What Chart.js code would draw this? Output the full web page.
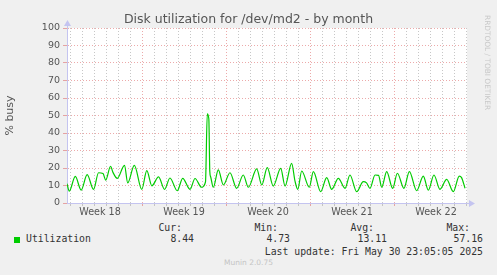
<!DOCTYPE html>
<html>
<head>
<meta charset="utf-8">
<script src="https://cdn.jsdelivr.net/npm/chart.js@4.4.1/dist/chart.umd.min.js"></script>
<style>
    body { margin: 0; background: #f0f0f0; }
    #wrap { position: relative; width: 497px; height: 275px; background: #f0f0f0; overflow: hidden; font-family: 'DejaVu Sans', sans-serif; }
    #chart { position: absolute; left: 0; top: 0; }
    .t { position: absolute; white-space: pre; line-height: 12px; }
    .mono { font-family: 'DejaVu Sans Mono', monospace; font-size: 9.8px; color: #333; }
</style>
</head>
<body>
<div id="wrap">
    <canvas id="chart" width="497" height="222" style="width:497px;height:222px"></canvas>
    <div class="t" style="left:0;width:497px;top:12px;line-height:14px;text-align:center;font-size:12.5px;color:#555">Disk utilization for /dev/md2 - by month</div>
    <div class="t" style="left:483px;top:15px;writing-mode:vertical-rl;font-size:7.4px;line-height:9px;color:#c8c8c8">RRDTOOL / TOBI OETIKER</div>

    <div class="t mono" style="right:315px;top:222px">Cur:</div>
    <div class="t mono" style="right:219px;top:222px">Min:</div>
    <div class="t mono" style="right:123px;top:222px">Avg:</div>
    <div class="t mono" style="right:27px;top:222px">Max:</div>

    <div style="position:absolute;left:14px;top:237px;width:6px;height:6px;background:#00cc00"></div>
    <div class="t mono" style="left:26px;top:233px">Utilization</div>
    <div class="t mono" id="cur" style="right:303px;top:233px"></div>
    <div class="t mono" id="min" style="right:207px;top:233px"></div>
    <div class="t mono" id="avg" style="right:110px;top:233px"></div>
    <div class="t mono" id="max" style="right:14px;top:233px"></div>

    <div class="t mono" style="right:14px;top:246px">Last update: Fri May 30 23:05:05 2025</div>
    <div class="t" style="left:0;width:497px;top:258px;text-align:center;font-size:7.5px;line-height:10px;color:#c4c4c4">Munin 2.0.75</div>
</div>
<script>
// x = days since start of week 18, y = % busy
const sampleDays = [
    0.75, 0.94, 1.44, 1.93, 2.43, 2.96, 3.38, 3.75, 3.98, 4.38, 4.58, 4.94, 5.54, 5.81, 6.36, 6.98,
    7.40, 7.82, 8.38, 8.88, 9.33, 9.94, 10.39, 11.00, 11.42, 11.96, 12.29, 12.44, 12.57, 12.65, 12.72, 12.94,
    13.36, 13.78, 14.33, 14.89, 15.44, 15.86, 16.56, 16.98, 17.44, 17.94, 18.56, 18.92, 19.47, 19.75, 19.98,
    20.31, 20.94, 21.28, 21.89, 22.39, 22.81, 23.36, 23.92, 24.33, 24.89, 25.44, 25.71, 26.00, 26.42, 26.71,
    26.98, 27.39, 27.89, 28.28, 28.83, 29.28, 29.89, 30.44, 30.86, 31.33, 31.83, 32.39, 32.94, 33.44, 33.63, 33.92
];
const utilization = [
    11.0, 6.8, 15.2, 7.4, 16.2, 7.8, 17.3, 16.8, 13.1, 21.0, 17.5, 14.1, 21.5, 11.5, 21.5, 7.8,
    18.5, 9.8, 14.9, 7.8, 14.3, 7.0, 14.1, 7.8, 14.0, 9.0, 12.0, 51.0, 48.0, 18.0, 15.0, 9.0,
    18.9, 10.3, 17.3, 8.4, 16.0, 9.0, 19.5, 10.3, 20.2, 9.7, 19.8, 9.7, 22.7, 12.5, 7.8,
    18.3, 9.0, 17.9, 6.5, 14.5, 7.8, 14.1, 8.4, 16.0, 6.5, 12.2, 11.5, 8.4, 16.0, 15.8,
    9.0, 17.9, 8.4, 17.0, 8.4, 17.9, 7.0, 15.4, 7.4, 16.0, 7.8, 13.5, 6.5, 15.4, 14.5, 8.4
];
const dayTicks = [];
for (let d = 1; d <= 34; d++) dayTicks.push(d);
const weekCenters = [3.5, 10.5, 17.5, 24.5, 31.5];
const weekLabels = ['Week 18', 'Week 19', 'Week 20', 'Week 21', 'Week 22'];
const summary = { cur: '8.44', min: '4.73', avg: '13.11', max: '57.16' };

const X_MIN = 0.75, X_MAX = 34.083;
const RED = 'rgba(220,100,100,0.55)';
const GRAY = 'rgba(175,175,175,0.7)';
const AXIS = '#c4c4f0';

for (const k in summary) document.getElementById(k).textContent = summary[k];

// white plot background + axis arrows
const plotDecor = {
    id: 'plotDecor',
    beforeDraw(chart) {
        const { ctx, chartArea: a } = chart;
        ctx.save();
        ctx.fillStyle = '#ffffff';
        ctx.fillRect(a.left, a.top, a.right - a.left, a.bottom - a.top);
        ctx.restore();
    },
    afterDraw(chart) {
        const { ctx, chartArea: a } = chart;
        ctx.save();
        ctx.strokeStyle = AXIS;
        ctx.fillStyle = AXIS;
        ctx.lineWidth = 1;
        ctx.beginPath();
        ctx.moveTo(a.left + 0.5, a.top);
        ctx.lineTo(a.left + 0.5, a.top - 4);
        ctx.moveTo(a.right, a.bottom + 0.5);
        ctx.lineTo(a.right + 4, a.bottom + 0.5);
        ctx.stroke();
        ctx.beginPath();
        ctx.moveTo(a.left + 0.5, a.top - 8);
        ctx.lineTo(a.left - 3, a.top - 2);
        ctx.lineTo(a.left + 4, a.top - 2);
        ctx.closePath();
        ctx.fill();
        ctx.beginPath();
        ctx.moveTo(a.right + 8, a.bottom + 0.5);
        ctx.lineTo(a.right + 2, a.bottom - 3);
        ctx.lineTo(a.right + 2, a.bottom + 4);
        ctx.closePath();
        ctx.fill();
        ctx.restore();
    }
};

const ctx = document.getElementById('chart').getContext('2d');
const chart = new Chart(ctx, {
    type: 'line',
    data: {
        datasets: [{
            label: 'Utilization',
            data: sampleDays.map((d, i) => ({ x: d, y: utilization[i] })),
            borderColor: '#00cc00',
            borderWidth: 1.2,
            pointRadius: 0,
            cubicInterpolationMode: 'monotone',
            fill: false,
            xAxisID: 'x',
            yAxisID: 'y'
        }]
    },
    options: {
        responsive: false,
        animation: false,
        layout: { padding: { top: 28, right: 30, left: 0, bottom: 0 } },
        plugins: { legend: { display: false }, tooltip: { enabled: false }, title: { display: false } },
        scales: {
            y: {
                min: 0,
                max: 100,
                afterFit: s => { s.width = 67; },
                ticks: {
                    stepSize: 5,
                    padding: 3,
                    color: '#555',
                    font: { family: 'DejaVu Sans', size: 9.5 },
                    callback: v => (v % 10 === 0 ? String(v) : '')
                },
                grid: {
                    color: c => (c.tick && c.tick.value % 10 === 0 ? RED : GRAY),
                    tickLength: 4
                },
                border: { color: AXIS, dash: [1, 2] },
                title: { display: true, text: '% busy', color: '#555', font: { family: 'DejaVu Sans', size: 11 } }
            },
            x: {
                type: 'linear',
                min: X_MIN,
                max: X_MAX,
                weight: 0,
                afterBuildTicks: s => { s.ticks = dayTicks.map(v => ({ value: v })); },
                afterFit: s => { s.height = 3; },
                ticks: { display: false },
                grid: {
                    color: c => (c.tick && c.tick.value % 7 === 0 ? RED : GRAY),
                    tickLength: 3
                },
                border: { color: AXIS, dash: [1, 2] }
            },
            xw: {
                type: 'linear',
                position: 'bottom',
                min: X_MIN,
                max: X_MAX,
                weight: 1,
                afterBuildTicks: s => { s.ticks = weekCenters.map(v => ({ value: v })); },
                afterFit: s => { s.height = 16; },
                ticks: {
                    padding: 1,
                    maxRotation: 0,
                    color: '#555',
                    font: { family: 'DejaVu Sans', size: 9.6 },
                    callback: (v, i) => weekLabels[i]
                },
                grid: { display: false, drawTicks: false },
                border: { display: false }
            }
        }
    },
    plugins: [plotDecor]
});
</script>
</body>
</html>
